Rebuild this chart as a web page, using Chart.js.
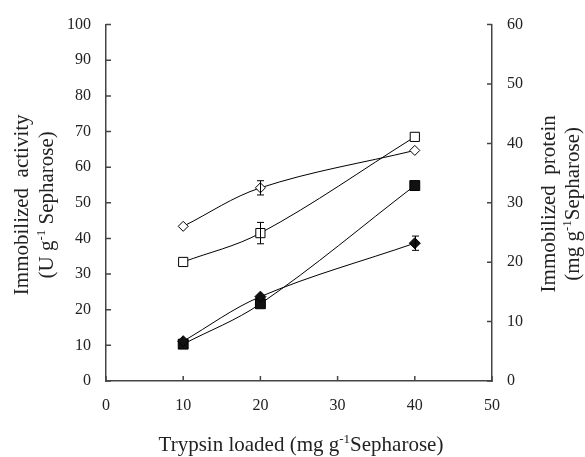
<!DOCTYPE html>
<html>
<head>
<meta charset="utf-8">
<script src="https://cdn.jsdelivr.net/npm/chart.js@4"></script>
<style>
  html, body { margin: 0; padding: 0; background: #fff; }
  #wrap { width: 585px; height: 457px; }
</style>
</head>
<body>
<div id="wrap"><canvas id="chart" width="585" height="457"></canvas></div>
<script>
// trypsin loaded (mg/g Sepharose)
const loaded = [10, 20, 40];

// immobilized activity, left axis (U/g)
const activityDiamond = [43.4, 54.2, 64.7];
const activityDiamondErr = [0, 2, 0];
const activitySquare = [33.4, 41.5, 68.5];
const activitySquareErr = [0, 3, 0];

// immobilized protein, right axis (mg/g)
const proteinDiamond = [6.7, 14.2, 23.2];
const proteinDiamondErr = [0, 0, 1.2];
const proteinSquare = [6.2, 13.0, 32.9];
const proteinSquareErr = [0, 0, 0];

const xTicks = [0, 10, 20, 30, 40, 50];
const leftTicks = [0, 10, 20, 30, 40, 50, 60, 70, 80, 90, 100];
const rightTicks = [0, 10, 20, 30, 40, 50, 60];

const FONT = "'Liberation Serif', 'Times New Roman', serif";
const AXIS_COLOR = '#444';

function pts(ys, errs) {
    return loaded.map((x, i) => ({ x: x, y: ys[i], err: errs[i] }));
}

// text with a superscript in the middle: [before, sup, after]
function drawSup(ctx, parts, cx, baseY) {
    const big = '21px ' + FONT, small = '13px ' + FONT;
    ctx.font = big;
    const w0 = ctx.measureText(parts[0]).width;
    const w2 = ctx.measureText(parts[2]).width;
    ctx.font = small;
    const w1 = ctx.measureText(parts[1]).width;
    let x = cx - (w0 + w1 + w2) / 2;
    ctx.textAlign = 'left';
    ctx.textBaseline = 'alphabetic';
    ctx.font = big;
    ctx.fillText(parts[0], x, baseY);
    x += w0;
    ctx.font = small;
    ctx.fillText(parts[1], x, baseY - 8);
    x += w1;
    ctx.font = big;
    ctx.fillText(parts[2], x, baseY);
}

// inward tick marks + error bars + axis titles
const decorPlugin = {
    id: 'decor',
    afterDatasetsDraw(chart) {
        const ctx = chart.ctx;
        const area = chart.chartArea;
        const sx = chart.scales.x, sl = chart.scales.yL, sr = chart.scales.yR;
        const midY = (area.top + area.bottom) / 2;
        ctx.save();

        // error bars
        ctx.strokeStyle = '#000';
        ctx.lineWidth = 1;
        chart.data.datasets.forEach(ds => {
            const sy = chart.scales[ds.yAxisID];
            ds.data.forEach(p => {
                if (!p.err) return;
                const px = Math.round(sx.getPixelForValue(p.x)) + 0.5;
                const top = sy.getPixelForValue(p.y + p.err);
                const bot = sy.getPixelForValue(p.y - p.err);
                ctx.beginPath();
                ctx.moveTo(px, top); ctx.lineTo(px, bot);
                ctx.moveTo(px - 3.5, top); ctx.lineTo(px + 3.5, top);
                ctx.moveTo(px - 3.5, bot); ctx.lineTo(px + 3.5, bot);
                ctx.stroke();
            });
        });

        // ticks
        ctx.strokeStyle = AXIS_COLOR;
        ctx.lineWidth = 1.5;
        ctx.beginPath();
        leftTicks.forEach(v => {
            const y = sl.getPixelForValue(v);
            ctx.moveTo(area.left, y); ctx.lineTo(area.left + 5, y);
        });
        rightTicks.forEach(v => {
            const y = sr.getPixelForValue(v);
            ctx.moveTo(area.right, y); ctx.lineTo(area.right - 5, y);
        });
        xTicks.forEach(v => {
            const x = sx.getPixelForValue(v);
            ctx.moveTo(x, area.bottom); ctx.lineTo(x, area.bottom - 5);
        });
        ctx.stroke();

        // titles
        ctx.fillStyle = '#222';
        drawSup(ctx, ['Trypsin loaded (mg g', '-1', 'Sepharose)'], (area.left + area.right) / 2 + 2, 451);

        ctx.save();
        ctx.translate(0, midY + 2);
        ctx.rotate(-Math.PI / 2);
        drawSup(ctx, ['Immobilized  activity', '', ''], 0, 28);
        drawSup(ctx, ['(U g', '-1', ' Sepharose)'], 0, 53);
        ctx.restore();

        ctx.save();
        ctx.translate(526, midY + 1);
        ctx.rotate(-Math.PI / 2);
        drawSup(ctx, ['Immobilized  protein', '', ''], 0, 29);
        drawSup(ctx, ['(mg g', '-1', 'Sepharose)'], 0, 53);
        ctx.restore();

        ctx.restore();
    }
};

const lineStyle = {
    borderColor: '#000',
    borderWidth: 1,
    tension: 0.35,
    showLine: true,
    pointBorderColor: '#000',
    pointBorderWidth: 1,
    pointHoverRadius: 0
};

const tickFont = { family: FONT, size: 16 };

new Chart(document.getElementById('chart'), {
    type: 'scatter',
    data: {
        datasets: [
            Object.assign({}, lineStyle, {
                label: 'activity diamond', yAxisID: 'yL',
                data: pts(activityDiamond, activityDiamondErr),
                pointStyle: 'rectRot', pointRadius: 5, pointBackgroundColor: '#fff'
            }),
            Object.assign({}, lineStyle, {
                label: 'activity square', yAxisID: 'yL',
                data: pts(activitySquare, activitySquareErr),
                pointStyle: 'rect', pointRadius: 6.5, pointBackgroundColor: '#fff'
            }),
            Object.assign({}, lineStyle, {
                label: 'protein diamond', yAxisID: 'yR',
                data: pts(proteinDiamond, proteinDiamondErr),
                pointStyle: 'rectRot', pointRadius: 5.5, pointBackgroundColor: '#111'
            }),
            Object.assign({}, lineStyle, {
                label: 'protein square', yAxisID: 'yR',
                data: pts(proteinSquare, proteinSquareErr),
                pointStyle: 'rect', pointRadius: 7, pointBackgroundColor: '#111'
            })
        ]
    },
    options: {
        responsive: false,
        animation: false,
        layout: { padding: { top: 21, left: 0, right: 0, bottom: 0 } },
        plugins: { legend: { display: false }, tooltip: { enabled: false } },
        scales: {
            x: {
                type: 'linear', min: 0, max: 50,
                afterFit: s => { s.height = 76; },
                afterBuildTicks: s => { s.ticks = xTicks.map(v => ({ value: v })); },
                grid: { display: false, drawTicks: false },
                border: { display: true, color: AXIS_COLOR, width: 1.5 },
                ticks: { padding: 15, color: '#222', font: tickFont }
            },
            yL: {
                type: 'linear', position: 'left', min: 0, max: 100,
                afterFit: s => { s.width = 106; },
                afterBuildTicks: s => { s.ticks = leftTicks.map(v => ({ value: v })); },
                grid: { display: false, drawTicks: false },
                border: { display: true, color: AXIS_COLOR, width: 1.5 },
                ticks: { padding: 15, color: '#222', font: tickFont }
            },
            yR: {
                type: 'linear', position: 'right', min: 0, max: 60,
                afterFit: s => { s.width = 93; },
                afterBuildTicks: s => { s.ticks = rightTicks.map(v => ({ value: v })); },
                grid: { display: false, drawTicks: false },
                border: { display: true, color: AXIS_COLOR, width: 1.5 },
                ticks: { padding: 15, color: '#222', font: tickFont }
            }
        }
    },
    plugins: [decorPlugin]
});
</script>
</body>
</html>
